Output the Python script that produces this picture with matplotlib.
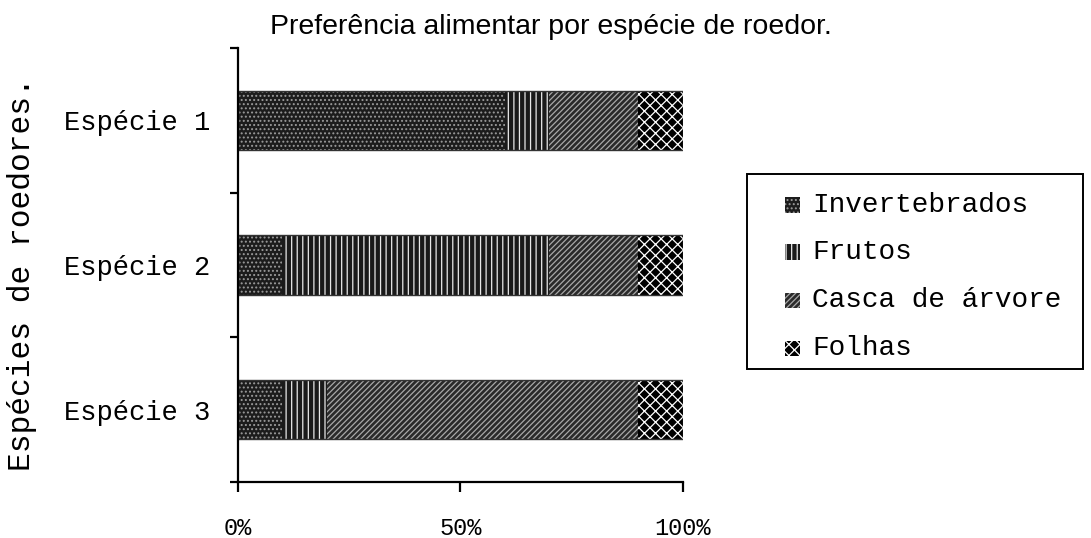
import matplotlib
matplotlib.use("Agg")
import matplotlib.pyplot as plt
from matplotlib.patches import Rectangle
import numpy as np

species = ["Espécie 1", "Espécie 2", "Espécie 3"]
categories = ["Invertebrados", "Frutos", "Casca de árvore", "Folhas"]
values = {
    "Invertebrados": [60, 10, 10],
    "Frutos": [10, 60, 10],
    "Casca de árvore": [20, 20, 70],
    "Folhas": [10, 10, 10],
}
xtick_vals = [0, 50, 100]
xtick_labels = ["0%", "50%", "100%"]
title = "Preferência alimentar por espécie de roedor."
ylabel = "Espécies de roedores."

styles = {
    "Invertebrados": dict(face="#1c1c1c", hatch="....", hc="#9a9a9a"),
    "Frutos": dict(face="#1a1a1a", hatch="|||", hc="#e8e8e8"),
    "Casca de árvore": dict(face="#2a2a2a", hatch="//////", hc="#a8a8a8"),
    "Folhas": dict(face="#000000", hatch="xxx", hc="#ffffff"),
}

mono = "Liberation Mono"
plt.rcParams["hatch.linewidth"] = 0.9

W, H = 1091, 538
fig = plt.figure(figsize=(W / 100, H / 100), dpi=100)
ax = fig.add_axes([0.218, 0.104, 0.408, 0.807])

y = np.arange(len(species))
left = np.zeros(len(species))
bh = 0.41
for cat in categories:
    v = np.array(values[cat], dtype=float)
    st = styles[cat]
    ax.barh(y, v, left=left, height=bh, color=st["face"], hatch=st["hatch"],
            edgecolor=st["hc"], linewidth=0)
    left += v
ax.barh(y, left, height=bh, fill=False, edgecolor="#333333", linewidth=1.0)

ax.set_xlim(0, 100)
ax.set_ylim(len(species) - 0.5, -0.5)
ax.spines["top"].set_visible(False)
ax.spines["right"].set_visible(False)
ax.spines["left"].set_linewidth(1.6)
ax.spines["bottom"].set_linewidth(1.6)

ax.set_xticks(xtick_vals)
ax.set_xticklabels(xtick_labels, fontfamily=mono, fontsize=17)
ax.tick_params(axis="x", length=7, width=1.6, pad=18, direction="out")

ax.set_yticks(y)
ax.set_yticklabels(species, fontfamily=mono, fontsize=19.5)
ax.set_yticks(np.arange(len(species) + 1) - 0.5, minor=True)
ax.tick_params(axis="y", which="major", length=0, pad=20)
ax.tick_params(axis="y", which="minor", length=6, width=1.6, direction="out")

fig.text(0.505, 0.95, title, ha="center", va="center",
         fontfamily="Liberation Sans", fontsize=20.5)
fig.text(0.02, 0.49, ylabel, rotation=90, ha="center", va="center",
         fontfamily=mono, fontsize=22.5)

# Legend box drawn in figure pixel layout
def fx(px):
    return px / W

def fy(py):
    return 1 - py / H

box = Rectangle((fx(747), fy(369)), fx(1083) - fx(747), fy(174) - fy(369),
                transform=fig.transFigure, facecolor="white",
                edgecolor="black", linewidth=1.4)
fig.add_artist(box)
row_y = [205, 252, 300, 348]
sq = 15
for cat, ry in zip(categories, row_y):
    st = styles[cat]
    p = Rectangle((fx(785), fy(ry + sq / 2)), fx(sq), sq / H,
                  transform=fig.transFigure, facecolor=st["face"],
                  hatch=st["hatch"], edgecolor=st["hc"], linewidth=0)
    fig.add_artist(p)
    fig.text(fx(812), fy(ry), cat, ha="left", va="center",
             fontfamily=mono, fontsize=20)

fig.savefig("out.png", dpi=100, facecolor="white")
